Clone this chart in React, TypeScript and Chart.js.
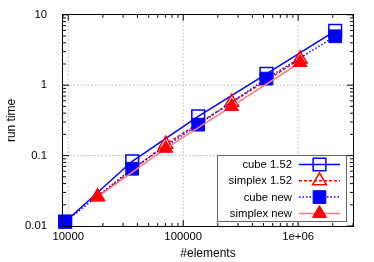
import React, { useEffect, useRef } from 'react';
import { Chart, registerables } from 'chart.js';

Chart.register(...registerables);

// ---- data ----
const xCube = [9400, 36000, 135000, 530000, 2100000];
const cube152 = [0.0115, 0.083, 0.36, 1.45, 5.9];
const cubeNew = [0.0115, 0.065, 0.275, 1.24, 4.95];
const xSimplex = [18000, 70500, 264000, 1040000];
const simplex152 = [0.026, 0.145, 0.57, 2.35];
const simplexNew = [0.026, 0.127, 0.5, 2.1];
const seriesNames = ['cube 1.52', 'simplex 1.52', 'cube new', 'simplex new'];
const xTickValues = [10000, 100000, 1000000];
const xTickLabels = ['10000', '100000', '1e+06'];
const yTickValues = [0.01, 0.1, 1, 10];
const yTickLabels = ['0.01', '0.1', '1', '10'];
const xMin = 9000;
const xMax = 3000000;
const yMin = 0.01;
const yMax = 10;
const xTitle = '#elements';
const yTitle = 'run time';

const FONT = '"Liberation Sans", Arial, sans-serif';

const pts = (xs: number[], ys: number[]) => xs.map((x, i) => ({ x, y: ys[i] }));

function markerPath(ctx: CanvasRenderingContext2D, style: string, x: number, y: number, r: number) {
  ctx.beginPath();
  if (style === 'rect') {
    const s = Math.SQRT1_2 * r;
    ctx.rect(x - s, y - s, 2 * s, 2 * s);
  } else {
    ctx.moveTo(x, y - r);
    ctx.lineTo(x + 0.8660254 * r, y + 0.5 * r);
    ctx.lineTo(x - 0.8660254 * r, y + 0.5 * r);
    ctx.closePath();
  }
}

const framePlugin = {
  id: 'gnuframe',
  beforeDatasetsDraw(chart: any) {
    const { ctx, chartArea: a, scales } = chart;
    const xs = scales.x;
    const ys = scales.y;
    ctx.save();
    ctx.strokeStyle = '#b4b4b4';
    ctx.lineWidth = 1;
    ctx.setLineDash([1.5, 2]);
    xTickValues.forEach((v) => {
      const px = xs.getPixelForValue(v);
      if (px <= a.left + 1 || px >= a.right - 1) return;
      ctx.beginPath();
      ctx.moveTo(px, a.top);
      ctx.lineTo(px, a.bottom);
      ctx.stroke();
    });
    yTickValues.forEach((v) => {
      const py = ys.getPixelForValue(v);
      if (py <= a.top + 1 || py >= a.bottom - 1) return;
      ctx.beginPath();
      ctx.moveTo(a.left, py);
      ctx.lineTo(a.right, py);
      ctx.stroke();
    });
    ctx.setLineDash([]);
    // ticks (inward, mirrored)
    ctx.strokeStyle = '#000';
    const drawX = (v: number, len: number) => {
      const px = xs.getPixelForValue(v);
      if (px < a.left - 0.5 || px > a.right + 0.5) return;
      ctx.beginPath();
      ctx.moveTo(px, a.bottom);
      ctx.lineTo(px, a.bottom - len);
      ctx.moveTo(px, a.top);
      ctx.lineTo(px, a.top + len);
      ctx.stroke();
    };
    const drawY = (v: number, len: number) => {
      const py = ys.getPixelForValue(v);
      if (py < a.top - 0.5 || py > a.bottom + 0.5) return;
      ctx.beginPath();
      ctx.moveTo(a.left, py);
      ctx.lineTo(a.left + len, py);
      ctx.moveTo(a.right, py);
      ctx.lineTo(a.right - len, py);
      ctx.stroke();
    };
    for (let e = 3; e <= 6; e++) {
      for (let m = 1; m <= 9; m++) {
        const v = m * Math.pow(10, e);
        if (v < xMin || v > xMax) continue;
        drawX(v, m === 1 ? 6 : 3);
      }
    }
    for (let e = -2; e <= 1; e++) {
      for (let m = 1; m <= 9; m++) {
        const v = m * Math.pow(10, e);
        if (v < yMin * 0.999 || v > yMax * 1.001) continue;
        drawY(v, m === 1 ? 6 : 3);
      }
    }
    ctx.restore();
  },
  afterDraw(chart: any) {
    const { ctx, chartArea: a } = chart;
    ctx.save();
    // border
    ctx.strokeStyle = '#000';
    ctx.lineWidth = 1;
    ctx.strokeRect(Math.round(a.left) - 0.5, Math.round(a.top) - 0.5, Math.round(a.right - a.left) + 1, Math.round(a.bottom - a.top) + 1);
    // legend
    const bx = 217.5, by = 155.5, bw = 129, bh = 66;
    ctx.fillStyle = '#fff';
    ctx.fillRect(bx, by, bw, bh);
    ctx.strokeStyle = '#666';
    ctx.strokeRect(bx, by, bw, bh);
    ctx.font = `11.3px ${FONT}`;
    ctx.textAlign = 'right';
    ctx.textBaseline = 'middle';
    chart.data.datasets.forEach((ds: any, i: number) => {
      const ry = 164.5 + i * 16.3;
      ctx.fillStyle = '#000';
      ctx.fillText(seriesNames[i], 292, ry + 0.5);
      ctx.save();
      ctx.strokeStyle = ds.borderColor;
      ctx.lineWidth = ds.borderWidth;
      ctx.setLineDash(ds.borderDash || []);
      ctx.beginPath();
      ctx.moveTo(299, ry);
      ctx.lineTo(340, ry);
      ctx.stroke();
      ctx.restore();
      ctx.save();
      ctx.lineWidth = ds.pointBorderWidth;
      ctx.strokeStyle = ds.pointBorderColor;
      ctx.fillStyle = ds.pointBackgroundColor;
      markerPath(ctx, ds.pointStyle, 319.5, ry, ds.pointRadius);
      ctx.fill();
      ctx.stroke();
      ctx.restore();
    });
    ctx.restore();
  },
};

export default function App() {
  const ref = useRef<HTMLCanvasElement | null>(null);
  useEffect(() => {
    document.body.style.margin = '0';
    const canvas = ref.current;
    if (!canvas) return;
    const tickFont = { family: FONT, size: 11.3 };
    const titleFont = { family: FONT, size: 12 };
    const chart = new Chart(canvas, {
      type: 'scatter',
      data: {
        datasets: [
          {
            label: seriesNames[0],
            data: pts(xCube, cube152),
            showLine: true,
            borderColor: '#0000ff',
            borderWidth: 1.5,
            pointStyle: 'rect',
            pointRadius: 9,
            pointBackgroundColor: 'rgba(0,0,0,0)',
            pointBorderColor: '#0000ff',
            pointBorderWidth: 1.5,
            order: 4,
            clip: false,
          },
          {
            label: seriesNames[1],
            data: pts(xSimplex, simplex152),
            showLine: true,
            borderColor: '#ff0000',
            borderWidth: 1.5,
            borderDash: [3, 2],
            pointStyle: 'triangle',
            pointRadius: 8,
            pointBackgroundColor: 'rgba(0,0,0,0)',
            pointBorderColor: '#ff0000',
            pointBorderWidth: 1.5,
            order: 3,
            clip: false,
          },
          {
            label: seriesNames[2],
            data: pts(xCube, cubeNew),
            showLine: true,
            borderColor: '#0000ff',
            borderWidth: 1.5,
            borderDash: [1.5, 2],
            pointStyle: 'rect',
            pointRadius: 9,
            pointBackgroundColor: '#0000ff',
            pointBorderColor: '#0000ff',
            pointBorderWidth: 1,
            order: 2,
            clip: false,
          },
          {
            label: seriesNames[3],
            data: pts(xSimplex, simplexNew),
            showLine: true,
            borderColor: '#ff7a7a',
            borderWidth: 1.5,
            pointStyle: 'triangle',
            pointRadius: 8,
            pointBackgroundColor: '#ff0000',
            pointBorderColor: '#ff0000',
            pointBorderWidth: 1,
            order: 1,
            clip: false,
          },
        ] as any,
      },
      options: {
        animation: false,
        responsive: false,
        events: [],
        layout: { padding: { top: 14, right: 21, left: 0, bottom: 0 } },
        plugins: { legend: { display: false }, tooltip: { enabled: false } },
        scales: {
          x: {
            type: 'logarithmic',
            position: 'bottom',
            min: xMin,
            max: xMax,
            afterBuildTicks: (s: any) => {
              s.ticks = xTickValues.map((v) => ({ value: v, major: true }));
            },
            afterFit: (s: any) => {
              s.height = 36;
            },
            ticks: {
              callback: (_v: any, i: number) => xTickLabels[i],
              autoSkip: false,
              maxRotation: 0,
              padding: -4,
              font: tickFont,
              color: '#000',
            },
            grid: { display: false },
            border: { display: false },
            title: {
              display: true,
              text: xTitle,
              font: titleFont,
              color: '#000',
              padding: { top: 0, bottom: 1 },
            },
          },
          y: {
            type: 'logarithmic',
            position: 'left',
            min: yMin,
            max: yMax,
            afterBuildTicks: (s: any) => {
              s.ticks = yTickValues.map((v) => ({ value: v, major: true }));
            },
            afterFit: (s: any) => {
              s.width = 63;
            },
            ticks: {
              callback: (_v: any, i: number) => yTickLabels[i],
              autoSkip: false,
              padding: 8,
              font: tickFont,
              color: '#000',
            },
            grid: { display: false },
            border: { display: false },
            title: {
              display: true,
              text: yTitle,
              font: titleFont,
              color: '#000',
              padding: { top: 4.5, bottom: 0 },
            },
          },
        },
      } as any,
      plugins: [framePlugin],
    });
    return () => chart.destroy();
  }, []);
  return (
    <div style={{ width: 374, height: 262 }}>
      <canvas ref={ref} width={374} height={262} style={{ display: 'block' }} />
    </div>
  );
}
